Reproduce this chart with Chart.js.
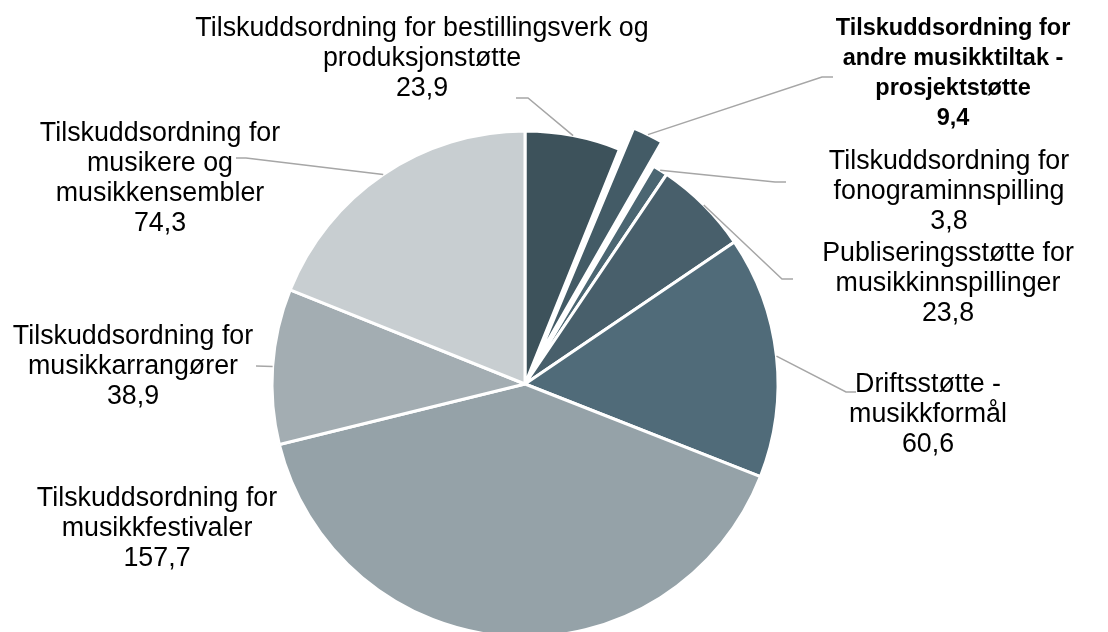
<!DOCTYPE html>
<html>
<head>
<meta charset="utf-8">
<script src="https://cdn.jsdelivr.net/npm/chart.js@4"></script>
<style>
  html, body { margin: 0; padding: 0; background: #fff; overflow: hidden; }
  #wrap { width: 1108px; height: 632px; }
</style>
</head>
<body>
<div id="wrap"><canvas id="pie" width="1108" height="632"></canvas></div>
<script>
// categories (each one split into the lines shown in the picture)
let categories = [
  ['Tilskuddsordning for bestillingsverk og', 'produksjonstøtte'],
  ['Tilskuddsordning for', 'andre musikktiltak -', 'prosjektstøtte'],
  ['Tilskuddsordning for', 'fonograminnspilling'],
  ['Publiseringsstøtte for', 'musikkinnspillinger'],
  ['Driftsstøtte -', 'musikkformål'],
  ['Tilskuddsordning for', 'musikkfestivaler'],
  ['Tilskuddsordning for', 'musikkarrangører'],
  ['Tilskuddsordning for', 'musikere og', 'musikkensembler']
];
let values = [23.9, 9.4, 3.8, 23.8, 60.6, 157.7, 38.9, 74.3];
let colors = ['#3d525b', '#435b66', '#4b6672', '#485f6b', '#506b79', '#95a2a8', '#a3adb2', '#c8ced1'];
// chart.js moves an arc by offset / 4
let explode = [0, 100, 0, 0, 0, 0, 0, 0];
let highlighted = 1;

// label placement: centre x, first line centre y
let labelPos = [[422, 29], [953, 29], [949, 162], [948, 254], [928, 385], [157, 499], [133, 337], [160, 134]];
// leader line: [elbow x, elbow y, end x, end y] or null
let leaders = [
  [528, 98, 516, 98],
  [822, 77, 833, 77],
  [775, 182, 786, 182],
  [782, 279, 793, 279],
  [846, 392, 856, 392],
  null,
  [256, 366, 256, 366],
  [246, 158, 236, 158]
];

// chart.js also grows an offset arc's radius; undo that so the slice only moves out
function radiusGrowth(arc) {
  const off = (arc.options.offset || 0) / 4;
  return off * (1 - Math.sin(Math.min(Math.PI, arc.circumference || 0)));
}

const labelPlugin = {
  id: 'pieLabels',
  afterDatasetsUpdate(chart) {
    chart.getDatasetMeta(0).data.forEach(arc => {
      if (arc.options.offset) arc.outerRadius -= radiusGrowth(arc);
    });
  },
  afterDatasetsDraw(chart) {
    const ctx = chart.ctx;
    const meta = chart.getDatasetMeta(0);
    ctx.save();
    meta.data.forEach((arc, i) => {
      const p = arc.getProps(['x', 'y', 'startAngle', 'endAngle', 'outerRadius'], true);
      const mid = (p.startAngle + p.endAngle) / 2;
      const r = p.outerRadius + radiusGrowth(arc) + (arc.options.offset || 0) / 4;
      const ld = leaders[i];
      if (ld) {
        ctx.beginPath();
        ctx.strokeStyle = '#a6a6a6';
        ctx.lineWidth = 1.5;
        ctx.moveTo(p.x + Math.cos(mid) * r, p.y + Math.sin(mid) * r);
        ctx.lineTo(ld[0], ld[1]);
        ctx.lineTo(ld[2], ld[3]);
        ctx.stroke();
      }
      const lines = categories[i].concat([values[i].toFixed(1).replace('.', ',')]);
      const bold = i === highlighted;
      ctx.font = (bold ? 'bold 23.5px' : '26.8px') + ' "Liberation Sans", Arial, sans-serif';
      ctx.fillStyle = '#000';
      ctx.textAlign = 'center';
      ctx.textBaseline = 'middle';
      lines.forEach((t, k) => {
        ctx.fillText(t, labelPos[i][0], labelPos[i][1] + k * 30);
      });
    });
    ctx.restore();
  }
};

new Chart(document.getElementById('pie'), {
  type: 'pie',
  data: {
    labels: categories.map(c => c.join(' ')),
    datasets: [{
      data: values,
      backgroundColor: colors,
      borderColor: '#ffffff',
      borderWidth: 3,
      offset: explode
    }]
  },
  options: {
    responsive: false,
    animation: false,
    events: [],
    radius: 253,
    layout: { padding: { left: 0, right: 58, top: 136, bottom: 0 } },
    plugins: { legend: { display: false }, tooltip: { enabled: false } }
  },
  plugins: [labelPlugin]
});
</script>
</body>
</html>
